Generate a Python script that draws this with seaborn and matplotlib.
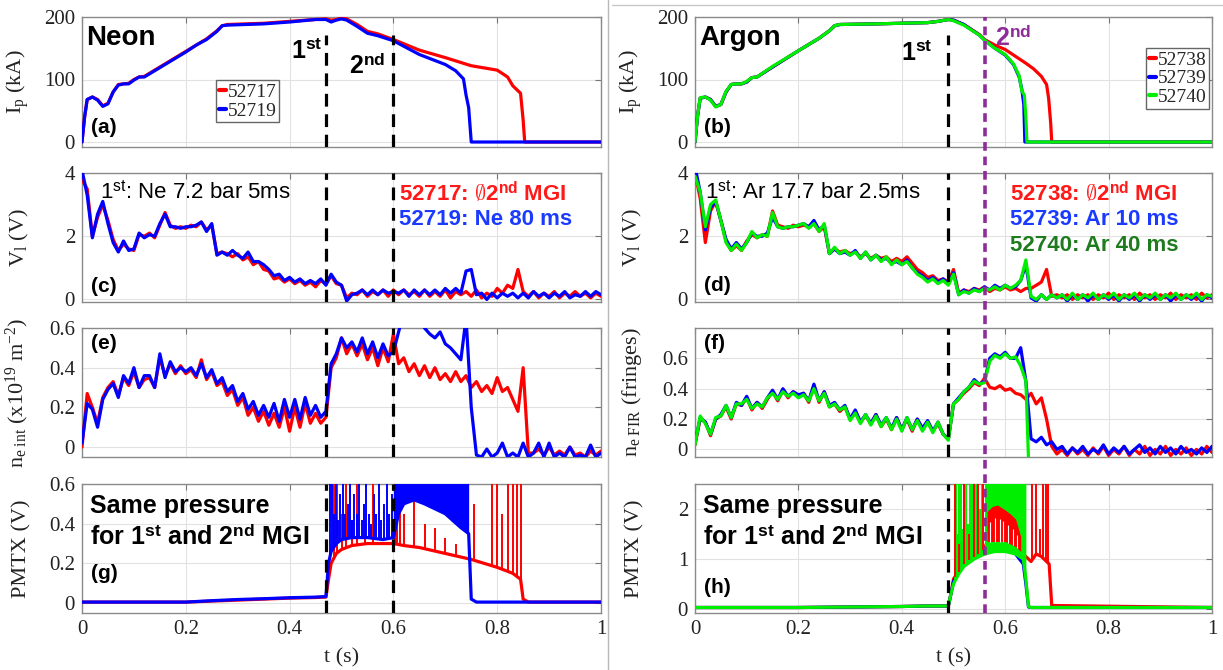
import numpy as np
import matplotlib
matplotlib.use("Agg")
import matplotlib.pyplot as plt
import seaborn as sns
from matplotlib.lines import Line2D

# ============================ DATA ============================
T = [round(0.01 * i, 2) for i in range(101)]   # 10 ms sampling grid (s)
XT = [0, 0.2, 0.4, 0.6, 0.8, 1.0]
XT_LABELS = ["0", "0.2", "0.4", "0.6", "0.8", "1"]

MGI1_NE, MGI2_NE = 0.47, 0.60
MGI1_AR, MGI2_AR = 0.49, 0.56

# ---- (a) Ip, neon ----
ip_ne_red_t = [0, 0.005, 0.01, 0.02, 0.03, 0.04, 0.05, 0.06, 0.07, 0.08, 0.09, 0.1, 0.11, 0.12, 0.15, 0.2, 0.22,
               0.24, 0.26, 0.27, 0.28, 0.35, 0.4, 0.45, 0.47, 0.48, 0.49, 0.5, 0.51, 0.53, 0.55, 0.57, 0.6, 0.65,
               0.7, 0.75, 0.8, 0.82, 0.83, 0.845, 0.85, 0.853, 1.0]
ip_ne_red = [0, 40, 68, 72, 68, 58, 62, 80, 92, 93, 94, 100, 104, 105, 120, 145, 155, 165, 178, 186, 188, 190, 193,
             196, 197, 195, 196, 199, 197, 188, 177, 173, 164, 147, 135, 122, 115, 104, 90, 78, 35, 0, 0]
ip_ne_blue_t = [0, 0.005, 0.01, 0.02, 0.03, 0.04, 0.05, 0.06, 0.07, 0.08, 0.09, 0.1, 0.11, 0.12, 0.15, 0.2, 0.22,
                0.24, 0.26, 0.27, 0.28, 0.35, 0.4, 0.45, 0.47, 0.48, 0.49, 0.5, 0.51, 0.53, 0.55, 0.57, 0.6, 0.65,
                0.7, 0.72, 0.735, 0.74, 0.745, 0.75, 1.0]
ip_ne_blue = [0, 40, 68, 72, 67, 57, 61, 80, 91, 93, 93, 99, 104, 104, 119, 144, 155, 164, 177, 186, 187, 189, 192,
              196, 196, 192, 195, 197, 195, 185, 174, 170, 162, 140, 124, 114, 101, 75, 55, 0, 0]

# ---- (b) Ip, argon ----
ip_ar_red_t = [0, 0.005, 0.01, 0.02, 0.03, 0.04, 0.05, 0.06, 0.07, 0.08, 0.09, 0.1, 0.11, 0.12, 0.15, 0.2, 0.22,
               0.24, 0.26, 0.27, 0.28, 0.35, 0.4, 0.45, 0.47, 0.49, 0.5, 0.52, 0.55, 0.56, 0.58, 0.6, 0.62, 0.64,
               0.655, 0.67, 0.68, 0.684, 0.688, 0.69, 1.0]
ip_ar_red = [0, 42, 70, 72, 68, 57, 60, 80, 92, 93, 93, 96, 103, 104, 120, 146, 156, 166, 178, 186, 188, 189, 190,
             191, 193, 196, 195, 188, 172, 164, 155, 148, 137, 126, 117, 105, 92, 70, 30, 0, 0]
ip_ar_blue_t = [0, 0.005, 0.01, 0.02, 0.03, 0.04, 0.05, 0.06, 0.07, 0.08, 0.09, 0.1, 0.11, 0.12, 0.15, 0.2, 0.22,
                0.24, 0.26, 0.27, 0.28, 0.35, 0.4, 0.45, 0.47, 0.49, 0.5, 0.52, 0.55, 0.56, 0.58, 0.6, 0.616, 0.627,
                0.632, 0.636, 0.638, 1.0]
ip_ar_blue = [0, 42, 70, 72, 68, 57, 60, 80, 92, 93, 93, 96, 103, 104, 120, 146, 156, 166, 178, 186, 188, 189, 190,
              191, 193, 196, 195, 188, 171, 163, 150, 139, 124, 104, 85, 60, 0, 0]
ip_ar_green_t = [0, 0.005, 0.01, 0.02, 0.03, 0.04, 0.05, 0.06, 0.07, 0.08, 0.09, 0.1, 0.11, 0.12, 0.15, 0.2, 0.22,
                 0.24, 0.26, 0.27, 0.28, 0.35, 0.4, 0.45, 0.47, 0.49, 0.5, 0.52, 0.55, 0.56, 0.58, 0.6, 0.616,
                 0.627, 0.632, 0.637, 0.64, 0.642, 1.0]
ip_ar_green = [0, 42, 71, 72, 67, 56, 60, 81, 92, 93, 93, 97, 103, 104, 121, 146, 156, 166, 178, 186, 188, 189, 190,
               191, 193, 196, 194, 187, 171, 163, 150, 140, 125, 106, 82, 75, 40, 0, 0]

# ---- (c) loop voltage, neon (on T) ----
vl_ne_red = [3.8, 3.5, 2.0, 2.6, 3.0, 2.5, 1.9, 1.55, 1.75, 1.6, 1.55,
             2.05, 2.0, 2.1, 1.95, 2.35, 2.75, 2.35, 2.25, 2.3, 2.25,
             2.35, 2.3, 2.45, 2.2, 2.35, 1.45, 1.5, 1.45, 1.35, 1.45,
             1.25, 1.35, 1.1, 1.2, 0.95, 0.9, 0.65, 0.7, 0.55, 0.65,
             0.5, 0.6, 0.45, 0.55, 0.4, 0.6, 0.5, 0.75, 0.5, 0.45,
             0.05, 0.2, 0.15, 0.3, 0.1, 0.25, 0.15, 0.3, 0.1, 0.3,
             0.15, 0.3, 0.15, 0.25, 0.1, 0.3, 0.1, 0.25, 0.1, 0.3,
             0.05, 0.25, 0.15, 0.25, 0.1, 0.3, 0.05, 0.2, 0.1, 0.35,
             0.2, 0.45, 0.35, 0.95, 0.25, 0.1, 0.25, 0.05, 0.2, 0.1,
             0.25, 0.05, 0.2, 0.1, 0.25, 0.1, 0.2, 0.05, 0.2, 0.1]
vl_ne_blue = [4.1, 3.3, 1.95, 2.7, 3.1, 2.4, 1.8, 1.5, 1.85, 1.55, 1.6,
              2.1, 1.95, 2.05, 2.0, 2.4, 2.7, 2.3, 2.3, 2.25, 2.3,
              2.3, 2.35, 2.45, 2.15, 2.4, 1.4, 1.5, 1.4, 1.55, 1.4,
              1.3, 1.5, 1.2, 1.2, 1.1, 0.95, 0.75, 0.8, 0.6, 0.7,
              0.55, 0.65, 0.5, 0.6, 0.5, 0.65, 0.45, 0.8, 0.55, 0.45,
              -0.05, 0.15, 0.2, 0.3, 0.15, 0.3, 0.15, 0.3, 0.2, 0.25,
              0.2, 0.3, 0.1, 0.3, 0.15, 0.3, 0.15, 0.3, 0.15, 0.35,
              0.2, 0.35, 0.2, 0.9, 0.95, 0.15, 0.2, 0.0, 0.2, 0.05,
              0.2, 0.1, 0.2, 0.05, 0.2, 0.05, 0.25, 0.1, 0.2, 0.05,
              0.2, 0.1, 0.25, 0.05, 0.15, 0.1, 0.25, 0.1, 0.25, 0.15]

# ---- (d) loop voltage, argon (on T) ----
vl_ar_red = [4.0, 3.2, 1.8, 2.8, 3.1, 2.5, 1.85, 1.55, 1.7, 1.55, 1.85,
             2.05, 1.95, 2.05, 2.0, 2.8, 2.35, 2.3, 2.25, 2.35, 2.3,
             2.35, 2.3, 2.4, 2.15, 2.3, 1.45, 1.6, 1.5, 1.55, 1.45,
             1.5, 1.35, 1.45, 1.3, 1.4, 1.3, 1.35, 1.2, 1.3, 1.2,
             1.35, 1.15, 0.95, 0.85, 0.7, 0.75, 0.6, 0.65, 0.55, 0.95,
             0.2, 0.3, 0.25, 0.35, 0.3, 0.4, 0.25, 0.35, 0.3, 0.4,
             0.3, 0.35, 0.25, 0.35, 0.35, 0.45, 0.55, 0.95, 0.1, 0.15,
             0.05, 0.15, 0.0, 0.15, 0.05, 0.15, 0.0, 0.15, 0.05, 0.2,
             0.0, 0.15, 0.05, 0.15, 0.0, 0.2, 0.05, 0.15, 0.0, 0.15,
             0.05, 0.2, 0.0, 0.15, 0.05, 0.15, 0.0, 0.2, 0.05, 0.15]
vl_ar_blue = [4.2, 3.4, 2.2, 2.9, 3.1, 2.5, 1.9, 1.6, 1.8, 1.6, 1.8,
              2.1, 2.0, 2.0, 2.1, 2.6, 2.3, 2.25, 2.3, 2.3, 2.35,
              2.4, 2.3, 2.5, 2.2, 2.35, 1.45, 1.6, 1.45, 1.5, 1.4,
              1.55, 1.3, 1.5, 1.25, 1.4, 1.25, 1.3, 1.15, 1.2, 1.1,
              1.25, 1.0, 0.85, 0.75, 0.6, 0.7, 0.55, 0.65, 0.5, 0.85,
              0.15, 0.3, 0.2, 0.35, 0.25, 0.4, 0.3, 0.45, 0.35, 0.45,
              0.35, 0.4, 0.6, 1.1, 0.05, -0.05, 0.15, 0.0, 0.15, 0.05,
              0.15, -0.05, 0.15, 0.0, 0.15, -0.05, 0.15, 0.0, 0.15, 0.0,
              0.15, -0.05, 0.15, 0.0, 0.15, -0.05, 0.15, 0.0, 0.15, 0.0,
              0.15, -0.05, 0.15, 0.0, 0.15, 0.0, 0.15, -0.05, 0.15, 0.05]
vl_ar_green = [3.9, 3.4, 2.3, 3.0, 3.15, 2.5, 1.8, 1.55, 1.75, 1.55, 1.8,
               2.15, 1.95, 2.05, 2.0, 2.75, 2.3, 2.25, 2.3, 2.3, 2.35,
               2.4, 2.25, 2.4, 2.15, 2.4, 1.45, 1.65, 1.45, 1.55, 1.4,
               1.5, 1.3, 1.5, 1.25, 1.4, 1.2, 1.35, 1.1, 1.25, 1.1,
               1.2, 1.0, 0.8, 0.7, 0.55, 0.65, 0.5, 0.6, 0.45, 0.8,
               0.15, 0.25, 0.2, 0.3, 0.25, 0.35, 0.3, 0.4, 0.3, 0.45,
               0.35, 0.45, 0.6, 1.25, 0.1, 0.0, 0.15, 0.0, 0.15, 0.05,
               0.15, 0.0, 0.2, 0.0, 0.15, 0.05, 0.2, 0.0, 0.15, 0.05,
               0.2, 0.0, 0.15, 0.05, 0.2, 0.0, 0.15, 0.05, 0.2, 0.0,
               0.15, 0.05, 0.2, 0.0, 0.15, 0.05, 0.2, 0.0, 0.15, 0.1]

# ---- (e) line-integrated density, neon (on T) ----
ne_ne_red = [0.0, 0.27, 0.2, 0.12, 0.25, 0.3, 0.33, 0.26, 0.35, 0.31, 0.38,
             0.3, 0.34, 0.35, 0.3, 0.45, 0.36, 0.42, 0.37, 0.41, 0.37,
             0.39, 0.35, 0.44, 0.34, 0.38, 0.31, 0.33, 0.26, 0.29, 0.21,
             0.25, 0.16, 0.2, 0.13, 0.18, 0.11, 0.17, 0.1, 0.2, 0.08,
             0.2, 0.1, 0.22, 0.12, 0.17, 0.12, 0.15, 0.4, 0.45, 0.55,
             0.47, 0.52, 0.46, 0.52, 0.44, 0.5, 0.41, 0.5, 0.43, 0.57,
             0.42, 0.45, 0.38, 0.42, 0.36, 0.41, 0.35, 0.4, 0.34, 0.37,
             0.33, 0.38, 0.33, 0.36, 0.3, 0.33, 0.28, 0.31, 0.27, 0.35,
             0.28, 0.3, 0.24, 0.18, 0.4, -0.03, -0.03, -0.01, -0.04, 0.0,
             -0.04, -0.02, -0.04, 0.0, -0.04, -0.03, -0.05, -0.02, -0.04, -0.02]
ne_ne_blue = [0.02, 0.22, 0.19, 0.1, 0.24, 0.29, 0.32, 0.25, 0.36, 0.32, 0.4,
              0.3, 0.36, 0.36, 0.3, 0.47, 0.35, 0.43, 0.38, 0.4, 0.38,
              0.4, 0.36, 0.42, 0.35, 0.39, 0.32, 0.35, 0.28, 0.31, 0.23,
              0.27, 0.19, 0.23, 0.16, 0.21, 0.15, 0.22, 0.13, 0.24, 0.15,
              0.24, 0.14, 0.25, 0.16, 0.21, 0.15, 0.18, 0.42, 0.47, 0.55,
              0.5, 0.53, 0.48, 0.55, 0.47, 0.53, 0.45, 0.52, 0.46, 0.48,
              0.58, 0.68, 0.72, 0.7, 0.66, 0.6, 0.57, 0.55, 0.58, 0.52,
              0.5, 0.47, 0.44, 0.65, 0.2, -0.04, -0.05, -0.01, -0.05, -0.03,
              0.02, -0.05, -0.03, -0.05, 0.02, -0.05, -0.03, 0.02, -0.05, 0.02,
              -0.05, -0.03, -0.05, 0.0, -0.05, -0.04, -0.05, 0.01, -0.05, -0.03]

# ---- (f) FIR density, argon (on T; green ends at disruption) ----
ne_ar_red = [0.03, 0.2, 0.18, 0.09, 0.2, 0.22, 0.28, 0.2, 0.3, 0.29, 0.34,
             0.26, 0.31, 0.27, 0.33, 0.38, 0.32, 0.39, 0.34, 0.38, 0.35,
             0.37, 0.31, 0.42, 0.31, 0.38, 0.28, 0.3, 0.25, 0.28, 0.2,
             0.25, 0.18, 0.22, 0.17, 0.23, 0.15, 0.2, 0.13, 0.21, 0.13,
             0.2, 0.12, 0.2, 0.13, 0.18, 0.12, 0.17, 0.1, 0.07, 0.3,
             0.33, 0.37, 0.4, 0.44, 0.42, 0.47, 0.41, 0.4, 0.42, 0.39,
             0.4, 0.37, 0.36, 0.33, 0.37, 0.3, 0.34, 0.2, 0.02, -0.03,
             0.0, -0.04, 0.01, -0.03, 0.0, -0.04, 0.01, -0.03, 0.02, -0.04,
             0.0, -0.03, 0.02, -0.04, 0.0, -0.03, 0.02, -0.04, 0.0, -0.03,
             0.02, -0.04, 0.0, -0.03, 0.01, -0.04, 0.0, -0.03, 0.02, -0.02]
ne_ar_blue = [0.04, 0.21, 0.18, 0.1, 0.2, 0.23, 0.29, 0.21, 0.31, 0.29, 0.35,
              0.27, 0.31, 0.28, 0.34, 0.39, 0.33, 0.4, 0.35, 0.38, 0.36,
              0.37, 0.32, 0.43, 0.32, 0.38, 0.29, 0.31, 0.26, 0.29, 0.2,
              0.26, 0.18, 0.23, 0.17, 0.23, 0.16, 0.21, 0.14, 0.21, 0.13,
              0.21, 0.13, 0.2, 0.14, 0.19, 0.12, 0.18, 0.1, 0.07, 0.3,
              0.34, 0.38, 0.41, 0.46, 0.43, 0.45, 0.6, 0.63, 0.61, 0.64,
              0.6, 0.6, 0.67, 0.45, 0.07, 0.05, 0.08, 0.03, 0.05, 0.0,
              0.02, -0.03, 0.01, -0.02, 0.02, -0.03, 0.0, -0.02, 0.03, -0.03,
              0.01, -0.02, 0.02, -0.03, 0.0, 0.03, -0.02, 0.01, -0.03, 0.02,
              -0.02, 0.01, -0.03, 0.02, -0.02, 0.0, -0.03, 0.01, -0.02, 0.02]
ne_ar_green_t = [round(0.01 * i, 2) for i in range(65)] + [0.645]
ne_ar_green = [0.03, 0.22, 0.17, 0.1, 0.21, 0.22, 0.29, 0.21, 0.3, 0.3, 0.33,
               0.27, 0.3, 0.28, 0.34, 0.37, 0.33, 0.38, 0.35, 0.37, 0.34,
               0.36, 0.32, 0.4, 0.32, 0.37, 0.28, 0.3, 0.26, 0.28, 0.19,
               0.24, 0.17, 0.23, 0.16, 0.22, 0.15, 0.21, 0.13, 0.2, 0.12,
               0.21, 0.13, 0.19, 0.12, 0.18, 0.11, 0.18, 0.1, 0.06, 0.3,
               0.33, 0.38, 0.41, 0.45, 0.43, 0.44, 0.58, 0.62, 0.6, 0.63,
               0.6, 0.61, 0.55, 0.45, -0.06]

# ---- (g) PMTX, neon ----
pm_ne_red_t = [0, 0.1, 0.2, 0.25, 0.3, 0.35, 0.4, 0.45, 0.47, 0.475, 0.48, 0.49, 0.5, 0.52, 0.55, 0.58, 0.6,
               0.62, 0.65, 0.7, 0.75, 0.8, 0.83, 0.845, 0.85, 0.86, 1.0]
pm_ne_red = [0.005, 0.005, 0.005, 0.01, 0.015, 0.02, 0.025, 0.028, 0.03, 0.12, 0.2, 0.25, 0.27, 0.29, 0.3, 0.3,
             0.3, 0.29, 0.28, 0.25, 0.22, 0.18, 0.15, 0.12, 0.02, 0.005, 0.005]
pm_ne_blue_t = [0, 0.1, 0.2, 0.25, 0.3, 0.35, 0.4, 0.45, 0.47, 0.475, 0.48, 0.49, 0.5, 0.52, 0.55, 0.58, 0.6,
                0.61, 0.62, 0.64, 0.66, 0.7, 0.73, 0.745, 0.75, 0.76, 1.0]
pm_ne_blue = [0.005, 0.005, 0.005, 0.012, 0.018, 0.022, 0.027, 0.03, 0.033, 0.2, 0.26, 0.3, 0.32, 0.33, 0.33,
              0.32, 0.33, 0.45, 0.5, 0.52, 0.5, 0.45, 0.38, 0.35, 0.02, 0.005, 0.005]
pm_ne_blue_band_t = [0.6, 0.61, 0.62, 0.64, 0.66, 0.7, 0.73, 0.745]
pm_ne_blue_band_top = [0.65, 0.65, 0.65, 0.65, 0.65, 0.65, 0.65, 0.65]
pm_ne_red_spikes = [(0.486, 0.65), (0.492, 0.65), (0.5, 0.45), (0.508, 0.65), (0.52, 0.42), (0.53, 0.65),
                    (0.545, 0.4), (0.56, 0.65), (0.603, 0.65), (0.607, 0.45), (0.612, 0.55), (0.62, 0.45),
                    (0.64, 0.65), (0.66, 0.4), (0.68, 0.38), (0.7, 0.33), (0.72, 0.3), (0.755, 0.5),
                    (0.79, 0.65), (0.8, 0.65), (0.81, 0.45), (0.82, 0.65), (0.83, 0.65), (0.838, 0.65),
                    (0.845, 0.65)]
pm_ne_blue_spikes = [(0.477, 0.65), (0.481, 0.65), (0.485, 0.45), (0.49, 0.65), (0.494, 0.42), (0.498, 0.55),
                     (0.503, 0.65), (0.507, 0.45), (0.512, 0.5), (0.516, 0.65), (0.52, 0.42), (0.525, 0.55),
                     (0.53, 0.45), (0.534, 0.65), (0.539, 0.42), (0.544, 0.5), (0.548, 0.65), (0.553, 0.45),
                     (0.557, 0.4), (0.562, 0.55), (0.567, 0.45), (0.572, 0.65), (0.577, 0.42), (0.582, 0.5),
                     (0.587, 0.65), (0.592, 0.45), (0.597, 0.55)]

# ---- (h) PMTX, argon ----
pm_ar_red_t = [0, 0.2, 0.3, 0.4, 0.45, 0.49, 0.495, 0.5, 0.51, 0.52, 0.54, 0.56, 0.565, 0.58, 0.6, 0.62, 0.64,
               0.65, 0.66, 0.67, 0.68, 0.685, 0.69, 1.0]
pm_ar_red = [0.03, 0.03, 0.04, 0.05, 0.06, 0.06, 0.3, 0.6, 0.75, 0.9, 1.05, 1.2, 1.35, 1.35, 1.35, 1.25, 1.05,
             0.95, 1.1, 1.05, 0.95, 0.9, 0.07, 0.03]
pm_ar_blue_t = [0, 0.2, 0.3, 0.4, 0.45, 0.49, 0.495, 0.5, 0.51, 0.52, 0.54, 0.56, 0.58, 0.6, 0.62, 0.635, 0.64,
                0.645, 0.65, 1.0]
pm_ar_blue = [0.03, 0.03, 0.04, 0.05, 0.06, 0.06, 0.3, 0.55, 0.75, 0.9, 1.05, 1.15, 1.2, 1.2, 1.1, 0.9, 0.5,
              0.04, 0.03, 0.03]
pm_ar_green_t = [0, 0.2, 0.3, 0.4, 0.45, 0.49, 0.495, 0.5, 0.51, 0.52, 0.54, 0.56, 0.58, 0.6, 0.62, 0.635, 0.64,
                 0.645, 0.65, 1.0]
pm_ar_green = [0.03, 0.03, 0.04, 0.05, 0.06, 0.06, 0.3, 0.5, 0.7, 0.85, 1.0, 1.1, 1.15, 1.15, 1.1, 1.0, 0.6,
               0.05, 0.03, 0.03]
pm_ar_green_band_t = [0.56, 0.58, 0.6, 0.62, 0.635, 0.64]
pm_ar_green_band_top = [2.6, 2.6, 2.6, 2.6, 2.6, 2.6]
pm_ar_red_band_t = [0.565, 0.575, 0.585, 0.6, 0.61, 0.62, 0.63]
pm_ar_red_band_lo = [1.35, 1.35, 1.35, 1.35, 1.3, 1.25, 1.15]
pm_ar_red_band_hi = [1.95, 2.05, 2.08, 1.98, 1.9, 1.8, 1.45]
pm_ar_red_band_gaps = [0.57, 0.58, 0.59, 0.595, 0.605, 0.615, 0.622]
pm_ar_red_spikes = [(0.503, 2.6), (0.51, 1.3), (0.52, 2.6), (0.53, 1.5), (0.54, 2.6), (0.548, 2.6), (0.558, 2.6),
                    (0.652, 2.6), (0.66, 2.6), (0.668, 1.6), (0.673, 2.6), (0.678, 2.6), (0.683, 2.6)]
pm_ar_blue_spikes = [(0.515, 1.35), (0.545, 2.6), (0.555, 1.55), (0.63, 2.6)]
pm_ar_green_spikes = [(0.502, 2.6), (0.505, 2.6), (0.508, 1.5), (0.511, 2.6), (0.514, 2.6), (0.518, 1.6),
                      (0.521, 2.6), (0.525, 2.6), (0.528, 1.7), (0.532, 2.6), (0.536, 2.6), (0.54, 1.8),
                      (0.544, 2.6), (0.548, 2.6), (0.552, 2.0), (0.556, 2.6)]

# ============================ STYLE ============================
sns.set_theme(style="whitegrid")
plt.rcParams["font.family"] = ["Liberation Serif", "DejaVu Serif"]
plt.rcParams["mathtext.fontset"] = "custom"
plt.rcParams["mathtext.rm"] = "Liberation Serif"
plt.rcParams["mathtext.sf"] = "Liberation Sans"
plt.rcParams["mathtext.bf"] = "Liberation Sans:bold"
plt.rcParams["mathtext.it"] = "Liberation Serif:italic"
plt.rcParams["mathtext.fallback"] = "cm"

RED, BLUE, GREEN = "#FF0000", "#0000FF", "#00EE00"
PURPLE = "#8E2C9A"
TXT_RED, TXT_BLUE, TXT_GREEN = "#FF1A1A", "#1A3AFF", "#1E7B1E"
SANS = ["Liberation Sans", "DejaVu Sans"]
LW = 2.3

fig = plt.figure(figsize=(12.23, 6.70), dpi=100)
W, H = 1223.0, 670.0
colL = (82 / W, (601 - 82) / W)
colR = (695 / W, (1212 - 695) / W)
rows = [(1 - 147 / H, 130 / H), (1 - 302 / H, 129 / H), (1 - 457 / H, 129 / H), (1 - 613 / H, 129 / H)]
axL = [fig.add_axes([colL[0], b, colL[1], h]) for b, h in rows]
axR = [fig.add_axes([colR[0], b, colR[1], h]) for b, h in rows]


def trace(ax, t, y, color, z=3, lw=LW):
    sns.lineplot(x=np.asarray(t, float), y=np.asarray(y, float), ax=ax, color=color, linewidth=lw,
                 estimator=None, sort=False, legend=False, zorder=z)


def spikes(ax, sp, bt, by, color, z=3):
    ts = np.array([s[0] for s in sp])
    hs = np.array([s[1] for s in sp])
    ax.vlines(ts, np.interp(ts, bt, by), hs, colors=color, lw=1.4, zorder=z)


def band(ax, t, lo, hi, color, z=3):
    ax.fill_between(t, lo, hi, color=color, lw=0, zorder=z)


def style(ax, yticks, ylabels, ylim, ylabel, bottom):
    ax.set_xlim(0, 1)
    ax.set_ylim(*ylim)
    ax.set_xticks(XT)
    ax.set_yticks(yticks)
    ax.set_yticklabels(ylabels)
    if bottom:
        ax.set_xticklabels(XT_LABELS)
        ax.set_xlabel("t (s)", fontsize=16, labelpad=7)
    else:
        ax.set_xticklabels([])
        ax.set_xlabel("")
    ax.set_facecolor("white")
    ax.grid(True, color="#e2e2e2", lw=0.8)
    ax.set_axisbelow(True)
    ax.tick_params(direction="in", length=4, width=0.8, color="#777777", top=True, right=True,
                   labelsize=15, pad=5, labelcolor="#222222")
    for s in ax.spines.values():
        s.set_color("#8a8a8a")
        s.set_linewidth(1.0)
    ax.set_ylabel(ylabel, fontsize=16, color="#222222")
    ax.yaxis.set_label_coords(-0.098, 0.5)


def txt(ax, x, y, s, size, color="black", bold=True):
    ax.text(x, y, s, transform=ax.transAxes, fontsize=size, color=color,
            fontweight="bold" if bold else "normal", family=SANS, ha="left", va="center", zorder=12)


def mgi(ax, x, color="black", ymax=1.0):
    ax.axvline(x, ymin=0, ymax=ymax, color=color, lw=2.3, ls=(0, (4, 2.4)), zorder=8)


NOSECOND = r"$\emptyset$"

# ---- (a) ----
ax = axL[0]
trace(ax, ip_ne_red_t, ip_ne_red, RED)
trace(ax, ip_ne_blue_t, ip_ne_blue, BLUE)
mgi(ax, MGI1_NE, ymax=0.86)
mgi(ax, MGI2_NE, ymax=0.86)
style(ax, [0, 100, 200], ["0", "100", "200"], (-8, 200), r"I$_\mathrm{p}$ (kA)", False)
ax.legend([Line2D([], [], color=RED, lw=3), Line2D([], [], color=BLUE, lw=3)], ["52717", "52719"],
          loc="upper left", bbox_to_anchor=(0.258, 0.512), fontsize=14, handlelength=0.35, handletextpad=0.1,
          borderpad=0.15, labelspacing=0.05, fancybox=False, edgecolor="#666666", framealpha=1,
          borderaxespad=0)
txt(ax, 0.008, 0.84, "Neon", 20)
txt(ax, 0.018, 0.15, "(a)", 15)
txt(ax, 0.403, 0.73, r"1$^{\mathbf{st}}$", 18)
txt(ax, 0.514, 0.62, r"2$^{\mathbf{nd}}$", 18)

# ---- (b) ----
ax = axR[0]
trace(ax, ip_ar_red_t, ip_ar_red, RED)
trace(ax, ip_ar_blue_t, ip_ar_blue, BLUE)
trace(ax, ip_ar_green_t, ip_ar_green, GREEN)
mgi(ax, MGI1_AR, ymax=0.86)
style(ax, [0, 100, 200], ["0", "100", "200"], (-8, 200), r"I$_\mathrm{p}$ (kA)", False)
ax.legend([Line2D([], [], color=c, lw=3) for c in (RED, BLUE, GREEN)], ["52738", "52739", "52740"],
          loc="upper left", bbox_to_anchor=(0.872, 0.76), fontsize=14, handlelength=0.35, handletextpad=0.1,
          borderpad=0.15, labelspacing=0.05, fancybox=False, edgecolor="#666666", framealpha=1,
          borderaxespad=0)
txt(ax, 0.008, 0.84, "Argon", 20)
txt(ax, 0.018, 0.15, "(b)", 15)
txt(ax, 0.398, 0.72, r"1$^{\mathbf{st}}$", 18)
txt(ax, 0.58, 0.84, r"2$^{\mathbf{nd}}$", 18, color=PURPLE)

# ---- (c) ----
ax = axL[1]
trace(ax, T, vl_ne_red, RED)
trace(ax, T, vl_ne_blue, BLUE)
mgi(ax, MGI1_NE)
mgi(ax, MGI2_NE)
style(ax, [0, 2, 4], ["0", "2", "4"], (-0.08, 4), r"V$_\mathrm{l}$ (V)", False)
txt(ax, 0.035, 0.85, r"1$^{\mathsf{st}}$: Ne 7.2 bar 5ms", 16, bold=False)
txt(ax, 0.61, 0.85, "52717: " + NOSECOND + r"2$^{\mathbf{nd}}$ MGI", 16, color=TXT_RED)
txt(ax, 0.61, 0.64, "52719: Ne 80 ms", 16, color=TXT_BLUE)
txt(ax, 0.018, 0.12, "(c)", 15)

# ---- (d) ----
ax = axR[1]
trace(ax, T, vl_ar_red, RED)
trace(ax, T, vl_ar_blue, BLUE)
trace(ax, T, vl_ar_green, GREEN)
mgi(ax, MGI1_AR)
style(ax, [0, 2, 4], ["0", "2", "4"], (-0.08, 4), r"V$_\mathrm{l}$ (V)", False)
txt(ax, 0.02, 0.85, r"1$^{\mathsf{st}}$: Ar 17.7 bar 2.5ms", 16, bold=False)
txt(ax, 0.61, 0.85, "52738: " + NOSECOND + r"2$^{\mathbf{nd}}$ MGI", 16, color=TXT_RED)
txt(ax, 0.61, 0.64, "52739: Ar 10 ms", 16, color=TXT_BLUE)
txt(ax, 0.61, 0.435, "52740: Ar 40 ms", 16, color=TXT_GREEN)
txt(ax, 0.018, 0.13, "(d)", 15)

# ---- (e) ----
ax = axL[2]
trace(ax, T, ne_ne_red, RED)
trace(ax, T, ne_ne_blue, BLUE)
mgi(ax, MGI1_NE)
mgi(ax, MGI2_NE)
style(ax, [0, 0.2, 0.4, 0.6], ["0", "0.2", "0.4", "0.6"], (-0.05, 0.6),
      r"n$_\mathrm{e\ int}$ (x10$^\mathrm{19}$ m$^\mathrm{-2}$)", False)
txt(ax, 0.018, 0.88, "(e)", 15)

# ---- (f) ----
ax = axR[2]
trace(ax, T, ne_ar_red, RED)
trace(ax, T, ne_ar_blue, BLUE)
trace(ax, ne_ar_green_t, ne_ar_green, GREEN)
mgi(ax, MGI1_AR)
style(ax, [0, 0.2, 0.4, 0.6], ["0", "0.2", "0.4", "0.6"], (-0.05, 0.8),
      r"n$_\mathrm{e\ FIR}$ (fringes)", False)
txt(ax, 0.018, 0.88, "(f)", 15)

# ---- (g) ----
ax = axL[3]
trace(ax, pm_ne_red_t, pm_ne_red, RED, z=3)
spikes(ax, pm_ne_red_spikes, pm_ne_red_t, pm_ne_red, RED, z=3)
trace(ax, pm_ne_blue_t, pm_ne_blue, BLUE, z=4)
spikes(ax, pm_ne_blue_spikes, pm_ne_blue_t, pm_ne_blue, BLUE, z=4)
band(ax, pm_ne_blue_band_t, np.interp(pm_ne_blue_band_t, pm_ne_blue_t, pm_ne_blue), pm_ne_blue_band_top, BLUE, z=4)
mgi(ax, MGI1_NE)
mgi(ax, MGI2_NE)
style(ax, [0, 0.2, 0.4, 0.6], ["0", "0.2", "0.4", "0.6"], (-0.05, 0.6), "PMTX (V)", True)
txt(ax, 0.016, 0.83, "Same pressure", 18)
txt(ax, 0.016, 0.59, r"for 1$^{\mathbf{st}}$ and 2$^{\mathbf{nd}}$ MGI", 18)
txt(ax, 0.018, 0.31, "(g)", 15)

# ---- (h) ----
ax = axR[3]
trace(ax, pm_ar_red_t, pm_ar_red, RED, z=3)
trace(ax, pm_ar_blue_t, pm_ar_blue, BLUE, z=4)
spikes(ax, pm_ar_blue_spikes, pm_ar_blue_t, pm_ar_blue, BLUE, z=4)
trace(ax, pm_ar_green_t, pm_ar_green, GREEN, z=5)
spikes(ax, pm_ar_green_spikes, pm_ar_green_t, pm_ar_green, GREEN, z=5)
band(ax, pm_ar_green_band_t, np.interp(pm_ar_green_band_t, pm_ar_green_t, pm_ar_green), pm_ar_green_band_top,
     GREEN, z=5)
band(ax, pm_ar_red_band_t, pm_ar_red_band_lo, pm_ar_red_band_hi, RED, z=6)
ax.vlines(pm_ar_red_band_gaps, np.interp(pm_ar_red_band_gaps, pm_ar_red_band_t, pm_ar_red_band_lo),
          np.interp(pm_ar_red_band_gaps, pm_ar_red_band_t, pm_ar_red_band_hi) - 0.25,
          colors="white", lw=0.8, zorder=6.5)
spikes(ax, pm_ar_red_spikes, pm_ar_red_t, pm_ar_red, RED, z=6)
mgi(ax, MGI1_AR)
style(ax, [0, 1, 2], ["0", "1", "2"], (-0.08, 2.5), "PMTX (V)", True)
txt(ax, 0.016, 0.83, "Same pressure", 18)
txt(ax, 0.016, 0.59, r"for 1$^{\mathbf{st}}$ and 2$^{\mathbf{nd}}$ MGI", 18)
txt(ax, 0.018, 0.2, "(h)", 15)

# ---- second argon MGI: one dotted line through the whole right column ----
xf = fig.transFigure.inverted().transform(axR[0].transData.transform((MGI2_AR, 0)))[0]
fig.add_artist(Line2D([xf, xf], [rows[3][0], rows[0][0] + rows[0][1]], transform=fig.transFigure,
                      color=PURPLE, lw=2.6, ls=(0, (2.4, 1.6)), zorder=30))

# ---- panel separators ----
fig.add_artist(Line2D([608 / W, 608 / W], [0, 1], transform=fig.transFigure, color="#b8b8b8", lw=1.0))
fig.add_artist(Line2D([612 / W, 1.0], [1 - 5 / H, 1 - 5 / H], transform=fig.transFigure, color="#c8c8c8", lw=1.0))

fig.savefig("out.png", dpi=100, facecolor="white")
